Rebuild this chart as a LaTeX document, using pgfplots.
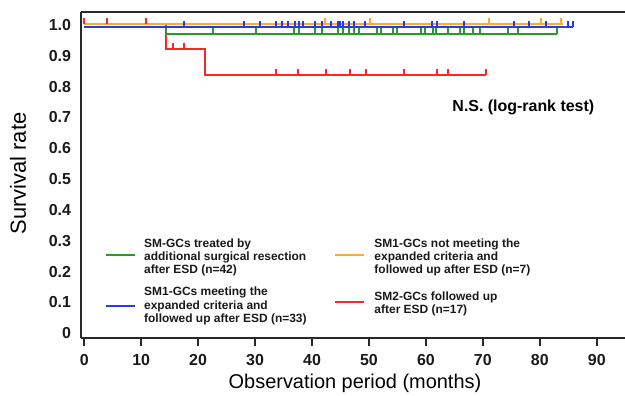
\documentclass[border=0pt]{standalone}
\usepackage{pgfplots}
\pgfplotsset{compat=1.18}
\usepackage{fontspec}
\setmainfont{Liberation Sans}
\definecolor{cgreen}{RGB}{40,155,40}
\definecolor{cblue}{RGB}{35,60,240}
\definecolor{corange}{RGB}{255,170,40}
\definecolor{cred}{RGB}{250,40,30}
\definecolor{cframe}{RGB}{40,40,40}
\pgfdeclareplotmark{cens}{\pgfpathmoveto{\pgfpointorigin}\pgfpathlineto{\pgfqpoint{0pt}{6bp}}\pgfusepathqstroke}
\begin{document}
\begin{tikzpicture}
\useasboundingbox (-80.7bp,-57.7bp) rectangle (544.3bp,338.3bp);
\begin{axis}[
  at={(0,0)}, anchor=south west,
  scale only axis, width=544.3bp, height=326bp,
  xmin=-0.615, xmax=94.96, ymin=-0.0162, ymax=1.0412,
  axis x line=box, axis y line=left,
  axis line style={-, line width=1.7bp, cframe},
  xtick={0,10,...,90},
  xticklabels={0,10,20,30,40,50,60,70,80,90},
  ytick={0,0.1,0.2,0.3,0.4,0.5,0.6,0.7,0.8,0.9,1.0},
  yticklabels={0,0.1,0.2,0.3,0.4,0.5,0.6,0.7,0.8,0.9,1.0},
  xtick pos=left, ytick pos=left,
  xtick align=outside, ytick align=inside,
  major tick length=7.7bp,
  xtick style={line width=1.7bp, cframe},
  ytick style={draw=none},
  ticklabel style={font=\fontsize{16}{16}\selectfont\bfseries, text=black!90},
  xticklabel style={anchor=north, inner sep=0pt, yshift=-8.5bp},
  yticklabel style={anchor=east, inner sep=0pt, xshift=-9.5bp},
  clip=false,
  every axis plot/.append style={line width=2bp},
  mark options={line width=2bp, solid},
]
% red
\addplot[cred, mark=none] coordinates {(0,1.004)(14.4,1.004)(14.4,0.922)(21.2,0.922)(21.2,0.838)(70.5,0.838)};
\addplot[cred, only marks, mark=cens] coordinates {(0,1.004)(4.0,1.004)(10.9,1.004)(15.6,0.922)(17.6,0.922)(33.7,0.838)(37.5,0.838)(42.4,0.838)(46.6,0.838)(49.4,0.838)(56.2,0.838)(62.0,0.838)(63.8,0.838)(70.5,0.838)};
% green
\addplot[cgreen, mark=none] coordinates {(0,0.995)(14.4,0.995)(14.4,0.970)(83.0,0.970)};
\addplot[cgreen, only marks, mark=cens] coordinates {(22.6,0.970)(30.1,0.970)(36.8,0.970)(37.8,0.970)(40.6,0.970)(41.7,0.970)(44.5,0.970)(45.4,0.970)(46.5,0.970)(47.4,0.970)(48.2,0.970)(51.4,0.970)(52.1,0.970)(54.3,0.970)(55.0,0.970)(59.1,0.970)(59.8,0.970)(61.2,0.970)(61.8,0.970)(63.8,0.970)(65.9,0.970)(66.7,0.970)(68.3,0.970)(69.5,0.970)(74.5,0.970)(76.2,0.970)(83.0,0.970)};
% orange
\addplot[corange, mark=none] coordinates {(0,1.004)(84.0,1.004)};
\addplot[corange, only marks, mark=cens] coordinates {(42.3,1.004)(50.2,1.004)(71.1,1.004)(80.2,1.004)(83.8,1.004)};
% blue
\addplot[cblue, mark=none] coordinates {(0,0.995)(85.8,0.995)};
\addplot[cblue, only marks, mark=cens] coordinates {(17.6,0.995)(28.0,0.995)(30.9,0.995)(33.7,0.995)(34.8,0.995)(35.7,0.995)(37.0,0.995)(37.7,0.995)(38.5,0.995)(40.5,0.995)(41.7,0.995)(43.3,0.995)(44.5,0.995)(45.0,0.995)(45.4,0.995)(46.5,0.995)(47.4,0.995)(49.3,0.995)(56.2,0.995)(61.0,0.995)(61.9,0.995)(66.7,0.995)(75.5,0.995)(78.1,0.995)(81.1,0.995)(84.9,0.995)(85.8,0.995)};
\end{axis}
\begin{scope}[x=1bp, y=-1bp, shift={(-80.7bp,338.3bp)}]
  % axis labels
  \node[anchor=base, inner sep=0pt, font=\fontsize{20}{20}\selectfont] at (355,388.5) {Observation period (months)};
  \node[anchor=base, rotate=90, inner sep=0pt, font=\fontsize{22}{22}\selectfont] at (26,173.5) {Survival rate};
  \node[anchor=base west, inner sep=0pt, font=\fontsize{16}{16}\selectfont\bfseries] at (452.3,111.7) {N.S. (log-rank test)};
  % legend
  \draw[draw=cgreen, line width=2bp] (106,255) -- (135,255);
  \draw[draw=cblue, line width=2bp] (106,306) -- (135,306);
  \draw[draw=corange, line width=2bp] (335,255) -- (364,255);
  \draw[draw=cred, line width=2bp] (335,302) -- (364,302);
  \begin{scope}[every node/.style={anchor=base west, inner sep=0pt, font=\fontsize{12}{12}\selectfont\bfseries, text=black!90}]
    \node at (144,247.3) {SM-GCs treated by};
    \node at (144,260.3) {additional surgical resection};
    \node at (144,273.3) {after ESD (n=42)};
    \node at (144,296.0) {SM1-GCs meeting the};
    \node at (144,309.3) {expanded criteria and};
    \node at (144,322.6) {followed up after ESD (n=33)};
    \node at (374.3,247.3) {SM1-GCs not meeting the};
    \node at (374.3,260.3) {expanded criteria and};
    \node at (374.3,273.3) {followed up after ESD (n=7)};
    \node at (374.3,300.7) {SM2-GCs followed up};
    \node at (374.3,314.0) {after ESD (n=17)};
  \end{scope}
\end{scope}
\end{tikzpicture}
\end{document}
